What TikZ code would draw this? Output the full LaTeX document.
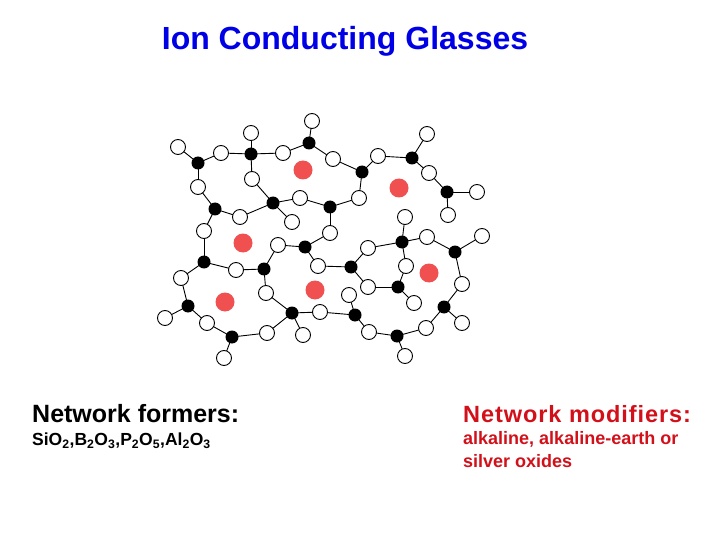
\documentclass[tikz,border=0pt]{standalone}
\usepackage{fontspec}
\setmainfont{Liberation Sans}
\definecolor{titleblue}{RGB}{0,0,230}
\definecolor{modred}{RGB}{210,16,26}
\definecolor{ionred}{RGB}{240,80,80}
\begin{document}
\begin{tikzpicture}[x=1pt,y=-1pt,
  wn/.style={circle,draw=black,fill=white,line width=0.9pt,minimum size=15pt,inner sep=0pt},
  bn/.style={circle,fill=black,minimum size=13pt,inner sep=0pt},
  rn/.style={circle,fill=ionred,minimum size=19pt,inner sep=0pt},
  bond/.style={line width=0.9pt},
  txt/.style={font=\bfseries,anchor=west,inner sep=0pt}]
\useasboundingbox (0,0) rectangle (720,540);
\node[font=\bfseries\fontsize{32}{36}\selectfont,text=titleblue] (title) at (345,41) {Ion Conducting Glasses};
\foreach \n/\x/\y in {1/198/163,2/251/154,3/309/143,4/362/172,5/412/158,6/447/192,7/215/209,8/273/203,9/330/207,10/204/262,11/264/269,12/305/247,13/351/267,14/402/242,15/455/252,16/398/287,17/188/306,18/232/337,19/292/313,20/355/315,21/444/307,22/397/336}
  \coordinate (B\n) at (\x,\y);
\foreach \n/\x/\y in {1/178/147,2/221/153,3/251/133,4/283/153,5/312/121,6/333/159,7/378/156,8/427/134,9/429/173,10/477/192,11/448/215,12/359/198,13/198/187,14/252/179,15/240/217,16/300/198,17/292/222,18/330/233,19/278/245,20/318/266,21/368/248,22/405/217,23/427/237,24/482/236,25/406/266,26/368/287,27/414/303,28/462/284,29/349/295,30/320/312,31/369/332,32/426/328,33/462/323,34/405/356,35/204/231,37/236/270,38/181/278,39/266/293,40/165/318,41/207/323,42/267/333,43/303/335,44/224/358}
  \coordinate (W\n) at (\x,\y);
\foreach \a/\b in {W1/B1,W2/B1,W2/B2,W3/B2,W4/B2,W4/B3,W5/B3,W6/B3,W6/B4,W7/B4,W7/B5,W8/B5,W9/B5,W9/B6,W10/B6,W11/B6,W12/B4,W12/B9,W13/B1,W13/B7,W14/B2,W14/B8,W15/B7,W15/B8,W16/B8,W16/B9,W17/B8,W18/B9,W18/B12,W19/B12,W19/B11,W20/B12,W20/B13,W21/B13,W21/B14,W22/B14,W23/B14,W23/B15,W24/B15,W25/B14,W25/B16,W26/B13,W26/B16,W27/B16,W28/B15,W28/B21,W29/B20,W30/B20,W30/B19,W31/B20,W31/B22,W32/B22,W32/B21,W33/B21,W34/B22,W35/B7,W35/B10,W37/B10,W37/B11,W38/B10,W38/B17,W39/B11,W39/B19,W40/B17,W41/B17,W41/B18,W42/B18,W42/B19,W43/B19,W44/B18}
  \draw[bond] (\a) -- (\b);
\foreach \n in {1,...,35,37,38,...,44} \node[wn] (w\n) at (W\n) {};
\foreach \n in {1,...,22} \node[bn] (b\n) at (B\n) {};
\foreach \n/\x/\y in {1/303/170,2/399/188,3/243/243,4/225/302,5/315/290,6/429/273}
  \node[rn] (r\n) at (\x,\y) {};
\node[txt,font=\bfseries\fontsize{25}{28}\selectfont] (nf) at (32,414) {Network formers:};
\node[txt,font=\bfseries\fontsize{17.5}{20}\selectfont] (nfl) at (32,441) {SiO\textsubscript{2},B\textsubscript{2}O\textsubscript{3},P\textsubscript{2}O\textsubscript{5},Al\textsubscript{2}O\textsubscript{3}};
\node[txt,font=\bfseries\fontsize{23.5}{28}\selectfont,text=modred] (nm) at (463,414) {\addfontfeature{LetterSpace=4}Network modifiers:};
\node[txt,font=\bfseries\fontsize{18}{23}\selectfont,text=modred,anchor=north west,align=left] (nml) at (463,431) {alkaline, alkaline-earth or\\silver oxides};
\end{tikzpicture}
\end{document}
